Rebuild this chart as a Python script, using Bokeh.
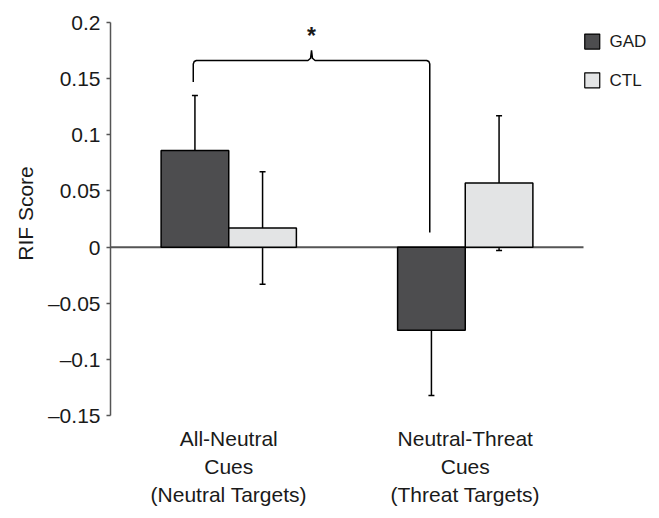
import numpy as np
from bokeh.plotting import figure
from bokeh.models import Range1d, ColumnDataSource, Whisker, TeeHead, FixedTicker
from bokeh.core.properties import value
from bokeh.embed import file_html
from bokeh.resources import INLINE

# ---- data ----
categories = ["All-Neutral\nCues\n(Neutral Targets)", "Neutral-Threat\nCues\n(Threat Targets)"]
series = ["GAD", "CTL"]
gad_mean = [0.086, -0.074]
gad_err = [0.049, 0.058]
ctl_mean = [0.017, 0.057]
ctl_err = [0.050, 0.060]
y_ticks = [-0.15, -0.1, -0.05, 0, 0.05, 0.1, 0.15, 0.2]
y_tick_labels = ["\u20130.15", "\u20130.1", "\u20130.05", "0", "0.05", "0.1", "0.15", "0.2"]
y_title = "RIF Score"
bracket_left_y = 0.147
bracket_top_y = 0.166
bracket_peak_y = 0.175
bracket_right_y = 0.013
star_y = 0.188

FONT = "Liberation Sans"
GAD_COLOR = "#4d4d4f"
CTL_COLOR = "#e3e4e5"
TXT = "#1a1a1a"

xpos = np.arange(1, len(categories) + 1, dtype=float)
bw = 0.286

p = figure(frame_width=541, frame_height=426, output_backend="svg", toolbar_location=None,
           x_range=Range1d(0.5, 0.5 + 541 / 236.5), y_range=Range1d(-0.1595, 0.2194),
           min_border_left=110, min_border_right=0, min_border_top=0, min_border_bottom=0)
p.outline_line_color = None
p.grid.visible = False

xa = p.xaxis[0]
xa.ticker = FixedTicker(ticks=list(xpos))
xa.major_label_overrides = {float(x): c for x, c in zip(xpos, categories)}
xa.axis_line_color = None
xa.major_tick_line_color = None
xa.minor_tick_line_color = None
xa.major_tick_in = 0
xa.major_tick_out = 0
xa.major_label_standoff = 0
xa.major_label_text_font = FONT
xa.major_label_text_font_size = "21px"
xa.major_label_text_color = TXT
xa.major_label_text_line_height = 1.22

ya = p.yaxis[0]
ya.ticker = FixedTicker(ticks=y_ticks)
ya.major_label_overrides = {t: l for t, l in zip(y_ticks, y_tick_labels)}
ya.bounds = (min(y_ticks), max(y_ticks))
ya.minor_tick_line_color = None
ya.major_tick_in = 0
ya.major_tick_out = 4
ya.major_label_standoff = 6
ya.axis_line_color = "#555555"
ya.axis_line_width = 1.5
ya.major_tick_line_color = "#555555"
ya.major_tick_line_width = 1.5
ya.major_label_text_font = FONT
ya.major_label_text_font_size = "21px"
ya.major_label_text_color = TXT
ya.axis_label = y_title
ya.axis_label_text_font = FONT
ya.axis_label_text_font_size = "21px"
ya.axis_label_text_font_style = "normal"
ya.axis_label_text_color = TXT
ya.axis_label_standoff = 8

# zero line across the category extent
p.line([0.5, len(categories) + 0.5], [0, 0], line_color="#555555", line_width=2)

src_g = ColumnDataSource(dict(x=xpos - bw / 2, top=gad_mean,
                              lo=np.array(gad_mean) - np.array(gad_err),
                              hi=np.array(gad_mean) + np.array(gad_err)))
src_c = ColumnDataSource(dict(x=xpos + bw / 2, top=ctl_mean,
                              lo=np.array(ctl_mean) - np.array(ctl_err),
                              hi=np.array(ctl_mean) + np.array(ctl_err)))

p.vbar(x="x", top="top", bottom=0, width=bw, source=src_g, fill_color=GAD_COLOR,
       line_color="black", line_width=1.5)
p.vbar(x="x", top="top", bottom=0, width=bw, source=src_c, fill_color=CTL_COLOR,
       line_color="black", line_width=1.5)

for src in (src_g, src_c):
    w = Whisker(base="x", lower="lo", upper="hi", source=src, line_color="black", line_width=1.5,
                upper_head=TeeHead(size=6, line_color="black", line_width=1.5),
                lower_head=TeeHead(size=6, line_color="black", line_width=1.5))
    p.add_layout(w)

# significance bracket
xl = xpos[0] - 0.15
xr = xpos[1] - 0.15
xm = (xl + xr) / 2
rx, ry = 0.013, 0.003
bx = [xl, xl, xl + rx * 0.3, xl + rx, xm - 0.015, xm - 0.004, xm, xm + 0.004, xm + 0.015,
      xr - rx, xr - rx * 0.3, xr, xr]
by = [bracket_left_y, bracket_top_y - ry, bracket_top_y - ry * 0.3, bracket_top_y, bracket_top_y,
      bracket_top_y + 0.002, bracket_peak_y, bracket_top_y + 0.002, bracket_top_y,
      bracket_top_y, bracket_top_y - ry * 0.3, bracket_top_y - ry, bracket_right_y]
p.line(bx, by, line_color="black", line_width=1.5)
p.text(x=[xm], y=[star_y], text=["*"], text_align="center", text_baseline="middle",
       text_font=value(FONT), text_font_size="23px", text_font_style="bold", text_color=TXT)

# legend
leg_x = 2.537
leg_y = [0.1829, 0.1484]
p.rect(x=[leg_x, leg_x], y=leg_y, width=15, height=15, width_units="screen", height_units="screen",
       fill_color=[GAD_COLOR, CTL_COLOR], line_color="black", line_width=1.2)
p.text(x=[leg_x + 0.073] * 2, y=leg_y, text=series, text_align="left", text_baseline="middle",
       text_font=value(FONT), text_font_size="17px", text_color=TXT)

open("out.html", "w").write(file_html(p, INLINE))
